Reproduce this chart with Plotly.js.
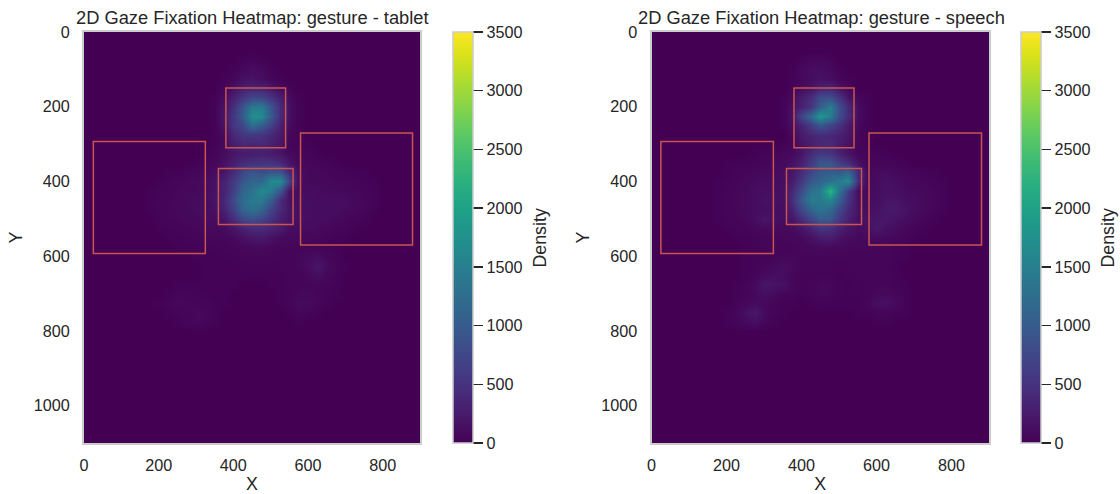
<!DOCTYPE html>
<html><head><meta charset="utf-8">
<script src="https://cdn.plot.ly/plotly-3.0.1.min.js"></script>
<style>html,body{margin:0;padding:0;background:#fff}#c{width:1120px;height:494px}</style>
</head><body><div id="c"></div>
<script>
const gridX = [150,175,200,225,250,275,300,325,350,375,400,425,450,475,500,525,550,575,600,625,650,675,700,725,750,775,800,825];
const gridY = [50,75,100,125,150,175,200,225,250,275,300,325,350,375,400,425,450,475,500,525,550,575,600,625,650,675,700,725,750,775,800];
const tabletZ = [
[0,0,0,0,0,0,0,0,0,0,0,0,0,0,0,0,0,0,0,0,0,0,0,0,0,0,0,0],
[0,0,0,0,0,0,0,0,0,0,0,30,50,30,0,0,0,0,0,0,0,0,0,0,0,0,0,0],
[0,0,0,0,0,0,0,0,0,0,30,70,120,90,30,0,0,0,0,0,0,0,0,0,0,0,0,0],
[0,0,0,0,0,0,0,0,0,20,70,140,180,130,60,20,0,0,0,0,0,0,0,0,0,0,0,0],
[0,0,0,0,0,0,0,0,0,50,160,280,340,320,220,90,20,0,0,0,0,0,0,0,0,0,0,0],
[0,0,0,0,0,0,0,0,20,110,300,520,720,700,520,290,90,20,0,0,0,0,0,0,0,0,0,0],
[0,0,0,0,0,0,0,0,30,190,460,900,1400,1450,950,420,130,30,0,0,0,0,0,0,0,0,0,0],
[0,0,0,0,0,0,0,0,30,220,550,980,1750,1700,1020,420,130,30,0,0,0,0,0,0,0,0,0,0],
[0,0,0,0,0,0,0,0,20,190,550,740,1280,1020,680,310,90,20,0,0,0,0,0,0,0,0,0,0],
[0,0,0,0,0,0,0,0,20,90,400,520,560,510,400,240,50,20,0,0,0,0,0,0,0,0,0,0],
[0,0,0,0,0,0,0,0,30,90,290,390,360,410,310,200,50,20,20,0,0,0,0,0,0,0,0,0],
[0,0,0,0,0,0,0,20,50,120,200,250,270,290,260,170,80,50,40,20,0,0,0,0,0,0,0,0],
[0,0,0,0,0,0,20,40,70,150,290,420,480,530,510,400,190,80,60,50,40,20,0,0,0,0,0,0],
[0,0,0,20,20,40,50,70,110,200,420,730,920,820,930,900,380,110,80,70,60,40,30,20,20,0,0,0],
[0,0,20,30,50,60,80,110,160,340,570,930,1130,1150,1650,1700,650,100,90,80,80,60,60,40,30,20,0,0],
[0,20,30,40,60,80,80,100,170,340,670,1130,1330,1650,1480,900,130,110,100,100,90,90,80,60,50,30,0,0],
[0,20,40,50,70,90,100,110,170,390,770,1230,1430,1430,1030,420,150,130,120,100,110,110,100,80,60,30,0,0],
[0,20,40,60,70,80,100,110,140,340,660,1130,1330,1130,730,400,190,140,120,110,110,110,90,80,50,20,0,0],
[0,0,30,50,60,70,80,100,110,190,420,730,830,730,510,290,170,130,120,110,100,80,60,40,30,0,0,0],
[0,0,20,30,40,50,60,80,80,100,190,310,420,410,360,250,120,100,100,90,70,50,40,20,0,0,0,0],
[0,0,0,20,20,30,40,50,50,60,90,150,210,250,170,100,70,70,70,60,40,20,20,0,0,0,0,0],
[0,0,0,0,20,20,20,30,30,40,50,70,80,90,70,60,50,50,50,50,30,20,0,0,0,0,0,0],
[0,0,0,0,0,0,20,20,20,30,30,40,50,50,40,40,40,60,90,120,60,30,0,0,0,0,0,0],
[0,0,0,0,0,0,0,20,20,20,20,30,30,30,30,30,40,60,120,200,100,40,20,0,0,0,0,0],
[0,0,0,0,0,0,0,20,20,20,20,20,20,20,20,20,30,40,80,120,70,30,0,0,0,0,0,0],
[0,0,0,0,20,20,20,20,20,20,20,0,0,0,20,20,30,40,50,50,40,20,0,0,0,0,0,0],
[0,0,0,20,50,40,30,30,20,20,0,0,0,0,0,20,30,70,70,50,30,20,0,0,0,0,0,0],
[0,0,20,40,70,60,50,50,30,20,0,0,0,0,0,20,40,100,90,50,30,0,0,0,0,0,0,0],
[0,0,0,20,40,50,70,60,30,0,0,0,0,0,0,0,20,50,40,20,0,0,0,0,0,0,0,0],
[0,0,0,0,20,40,70,50,20,0,0,0,0,0,0,0,0,20,0,0,0,0,0,0,0,0,0,0],
[0,0,0,0,0,0,0,0,0,0,0,0,0,0,0,0,0,0,0,0,0,0,0,0,0,0,0,0]
];
const speechZ = [
[0,0,0,0,0,0,0,0,0,0,0,0,0,0,0,0,0,0,0,0,0,0,0,0,0,0,0,0],
[0,0,0,0,0,0,0,0,0,0,40,70,70,50,0,0,0,0,0,0,0,0,0,0,0,0,0,0],
[0,0,0,0,0,0,0,0,0,20,70,120,130,80,30,0,0,0,0,0,0,0,0,0,0,0,0,0],
[0,0,0,0,0,0,0,0,0,20,70,130,170,130,50,20,0,0,0,0,0,0,0,0,0,0,0,0],
[0,0,0,0,0,0,0,0,0,40,110,190,320,380,190,60,0,0,0,0,0,0,0,0,0,0,0,0],
[0,0,0,0,0,0,0,0,20,90,260,430,800,830,500,190,50,20,0,0,0,0,0,0,0,0,0,0],
[0,0,0,0,0,0,0,0,20,140,320,540,1050,1500,830,420,100,20,0,0,0,0,0,0,0,0,0,0],
[0,0,0,0,0,0,0,0,20,180,700,1200,1900,1500,830,420,100,20,0,0,0,0,0,0,0,0,0,0],
[0,0,0,0,0,0,0,0,20,130,340,630,930,730,500,250,70,20,0,0,0,0,0,0,0,0,0,0],
[0,0,0,0,0,0,0,0,0,60,240,350,420,380,310,200,50,0,0,0,0,0,0,0,0,0,0,0],
[0,0,0,0,0,0,0,0,20,50,180,290,380,420,250,160,40,20,0,0,0,0,0,0,0,0,0,0],
[0,0,0,0,0,20,30,40,60,90,190,410,570,500,320,170,60,40,30,20,0,0,0,0,0,0,0,0],
[0,0,20,20,30,40,50,70,100,160,290,600,960,930,630,420,150,60,50,50,40,20,0,0,0,0,0,0],
[0,0,20,40,50,70,80,90,120,200,420,730,960,1030,980,1150,400,80,90,110,80,60,40,30,20,0,0,0],
[0,20,30,50,70,90,110,110,130,280,540,970,1100,1300,1480,1680,420,90,100,150,120,80,70,60,40,20,0,0],
[0,20,40,60,80,110,130,120,140,400,800,1300,1450,2300,1350,620,100,100,120,150,140,100,90,80,60,30,0,0],
[0,20,40,60,80,120,150,130,140,440,980,1480,1420,1600,1060,510,130,110,130,180,190,130,100,90,60,30,0,0],
[0,20,40,60,80,110,130,120,120,340,760,1130,1350,1200,760,400,150,130,160,210,220,160,110,80,50,20,0,0],
[0,20,30,50,70,120,190,150,110,190,420,730,1000,960,560,320,130,150,200,190,170,120,80,50,20,0,0,0],
[0,0,20,30,50,70,90,80,80,100,180,330,520,470,310,190,110,140,230,150,110,70,40,20,0,0,0,0],
[0,0,0,20,20,30,40,50,60,70,90,160,250,280,170,110,80,90,100,80,60,40,20,0,0,0,0,0],
[0,0,0,0,20,20,30,40,40,50,60,80,90,80,70,70,60,60,50,50,30,20,0,0,0,0,0,0],
[0,0,0,0,20,20,30,50,60,60,50,50,50,40,40,40,50,50,50,40,30,20,0,0,0,0,0,0],
[0,0,0,0,20,30,60,90,130,90,40,40,40,30,30,30,40,40,40,40,20,0,0,0,0,0,0,0],
[0,0,0,0,20,50,90,130,110,60,30,30,30,30,20,30,30,40,40,40,30,0,0,0,0,0,0,0],
[0,0,0,20,40,90,210,170,150,60,30,40,70,60,30,20,30,40,50,60,30,20,0,0,0,0,0,0],
[0,0,0,20,40,80,120,90,50,30,20,40,70,60,30,20,30,40,70,90,60,30,0,0,0,0,0,0],
[0,0,0,30,70,100,70,40,20,20,0,20,30,20,20,20,20,60,130,150,90,30,0,0,0,0,0,0],
[0,0,20,60,140,220,90,40,20,0,0,0,0,0,0,0,20,30,40,50,30,20,0,0,0,0,0,0],
[0,0,20,40,90,120,60,20,0,0,0,0,0,0,0,0,0,0,20,20,0,0,0,0,0,0,0,0],
[0,0,0,0,0,0,0,0,0,0,0,0,0,0,0,0,0,0,0,0,0,0,0,0,0,0,0,0]
];
const panelTitles = ["2D Gaze Fixation Heatmap: gesture - tablet","2D Gaze Fixation Heatmap: gesture - speech"];
const boxesX0 = [380,360,25,580];
const boxesX1 = [540,560,325,880];
const boxesY0 = [150,365,293,270];
const boxesY1 = [310,515,593,570];
const xTicks = [0,200,400,600,800];
const yTicks = [0,200,400,600,800,1000];
const barTicks = [0,500,1000,1500,2000,2500,3000,3500];

const W=1120,H=494,TOP=32,BOT=443;
const ink="#262626";
const font={family:"Liberation Sans, Arial, sans-serif",color:ink};
const panels=[{l:84,r:420,cx:252,bar:453,dens:539.5,xa:"x",ya:"y",z:tabletZ,lx:"xaxis",ly:"yaxis"},
              {l:651.5,r:989,cx:821,bar:1021,dens:1107.5,xa:"x2",ya:"y2",z:speechZ,lx:"xaxis2",ly:"yaxis2"}];
const layout={width:W,height:H,margin:{l:0,r:0,t:0,b:0,pad:0},paper_bgcolor:"#fff",plot_bgcolor:"#440154",
  font:{...font,size:16.2},shapes:[],annotations:[],showlegend:false};
const data=[];
panels.forEach((p,i)=>{
  data.push({type:"heatmap",x:gridX,y:gridY,z:p.z,xaxis:p.xa,yaxis:p.ya,colorscale:"Viridis",zmin:0,zmax:3500,zsmooth:"best",hoverinfo:"skip",
    colorbar:{x:p.bar/W,xanchor:"left",xpad:0,ypad:0,y:(H-BOT)/H,yanchor:"bottom",lenmode:"pixels",len:BOT-TOP,thicknessmode:"pixels",thickness:20,
      outlinecolor:"#cccccc",outlinewidth:1.5,borderwidth:0,tickmode:"array",tickvals:barTicks,ticks:"outside",ticklen:10,tickwidth:1.5,tickcolor:ink,
      tickfont:{...font,size:16.2}}});
  const common={showgrid:false,zeroline:false,showline:true,linecolor:"#cccccc",linewidth:2,mirror:true,ticks:"outside",tickcolor:"rgba(0,0,0,0)",tickmode:"array",tickfont:{...font,size:16.2}};
  layout[p.lx]={...common,ticklen:7,domain:[p.l/W,p.r/W],range:[0,900],tickvals:xTicks,anchor:p.ya,title:{text:"X",font:{...font,size:17.8},standoff:6}};
  layout[p.ly]={...common,ticklen:9,domain:[(H-BOT)/H,(H-TOP)/H],range:[1100,0],tickvals:yTicks,anchor:p.xa,title:{text:"Y",font:{...font,size:17.8},standoff:7}};
  boxesX0.forEach((b,k)=>layout.shapes.push({type:"rect",xref:p.xa,yref:p.ya,x0:boxesX0[k],x1:boxesX1[k],y0:boxesY0[k],y1:boxesY1[k],line:{color:"#c8564f",width:1.5},fillcolor:"rgba(0,0,0,0)"}));
  layout.annotations.push({xref:"paper",yref:"paper",x:p.cx/W,y:(H-17)/H,xanchor:"center",yanchor:"middle",showarrow:false,text:panelTitles[i],font:{...font,size:18.3}});
  layout.annotations.push({xref:"paper",yref:"paper",x:p.dens/W,y:(H-238)/H,xanchor:"center",yanchor:"middle",showarrow:false,textangle:-90,text:"Density",font:{...font,size:17.8}});
});
Plotly.newPlot("c",data,layout,{displayModeBar:false,staticPlot:true});
</script></body></html>
